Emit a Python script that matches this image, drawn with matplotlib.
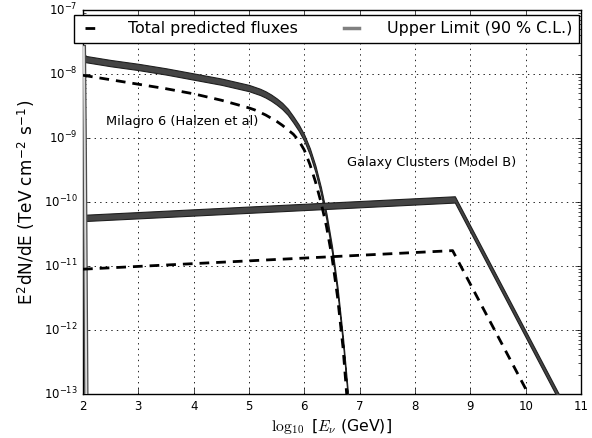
import numpy as np
import matplotlib
matplotlib.use('Agg')
from matplotlib import pyplot as plt
from matplotlib.lines import Line2D

plt.style.use('classic')

# log10(E/GeV) vs log10(E^2 dN/dE)
# Milagro 6 (Halzen et al), upper limit band
milagro_x = [2.0, 2.5, 3.0, 3.5, 4.0, 4.5, 5.0, 5.1, 5.2, 5.3, 5.4, 5.5,
             5.6, 5.7, 5.8, 5.9, 6.0, 6.1, 6.2, 6.3, 6.4, 6.5, 6.6, 6.7,
             6.79]
milagro_ul = [-7.76, -7.83, -7.89, -7.96, -8.04, -8.12, -8.22, -8.25, -8.28,
              -8.32, -8.37, -8.43, -8.50, -8.59, -8.71, -8.84, -9.00, -9.21,
              -9.48, -9.82, -10.23, -10.74, -11.38, -12.18, -13.05]
# Milagro 6, predicted flux
milagro_pred_x = [2.0, 2.5, 3.0, 3.5, 4.0, 4.5, 5.0, 5.1, 5.2, 5.3, 5.4,
                  5.5, 5.6, 5.7, 5.8, 5.9, 6.0, 6.1, 6.2, 6.3, 6.4, 6.5, 6.6,
                  6.7, 6.77]
milagro_pred = [-8.02, -8.09, -8.16, -8.23, -8.31, -8.41, -8.53, -8.56, -8.60,
                -8.64, -8.69, -8.74, -8.80, -8.87, -8.94, -9.04, -9.19, -9.41,
                -9.68, -10.00, -10.38, -10.86, -11.48, -12.28, -13.05]
# Galaxy clusters (model B)
cluster_x = [2.0, 8.72, 10.60]
cluster_ul = [-10.25, -9.96, -13.05]
cluster_pred_x = [2.0, 8.68, 10.08]
cluster_pred = [-11.05, -10.76, -13.05]
# steep source at the left edge
steep_x = [2.015, 2.03, 2.045, 2.06]
steep_ul = [-7.58, -9.0, -11.0, -13.05]

band = 1.12  # half width of the upper limit bands (factor)
dash = (7, 5)

fig = plt.figure(figsize=(5.92, 4.38), dpi=100, facecolor='white')
ax = fig.add_axes([0.1402, 0.1005, 0.8412, 0.8767])

for xs, ys in [(milagro_x, milagro_ul), (cluster_x, cluster_ul)]:
    y = 10 ** np.array(ys)
    ax.fill_between(xs, y / band, y * band, facecolor='0.27',
                    edgecolor='0.12', linewidth=0.8, zorder=3)

ys = 10 ** np.array(steep_ul)
ax.plot(steep_x, ys, color='0.3', lw=3.2, zorder=3)
ax.plot(steep_x, ys, color='0.85', lw=1.4, zorder=3)

ax.plot(milagro_pred_x, 10 ** np.array(milagro_pred), 'k--', lw=2,
        dashes=dash, zorder=4)
ax.plot(cluster_pred_x, 10 ** np.array(cluster_pred), 'k--', lw=2,
        dashes=dash, zorder=4)

ax.set_yscale('log')
ax.set_xlim(2, 11)
ax.set_ylim(1e-13, 1e-7)
ax.grid(True, color='k', linestyle=':', linewidth=0.6)
ax.tick_params(labelsize=8.5)

ax.text(2.41, 10 ** -8.75, 'Milagro 6 (Halzen et al)', fontsize=9.4,
        va='center', ha='left')
ax.text(6.77, 10 ** -9.39, 'Galaxy Clusters (Model B)', fontsize=9.4,
        va='center', ha='left')

ax.set_xlabel(r'$\log_{10}$ [$E_\nu$ (GeV)]', fontsize=11.3, labelpad=3)
ax.set_ylabel(r'E$^\mathregular{2}$dN/dE (TeV cm$^\mathregular{-2}$ '
              r's$^\mathregular{-1}$)', fontsize=12.2)

handles = [Line2D([], [], color='k', ls='--', lw=2, dashes=dash),
           Line2D([], [], color='0.5', lw=2.5)]
ax.legend(handles, ['Total predicted fluxes', 'Upper Limit (90 % C.L.)'],
          loc='upper left', bbox_to_anchor=(-0.019, 0.914, 1.015, 0.073),
          mode='expand', ncol=2, borderaxespad=0, fontsize=11.4,
          handlelength=1.55, handletextpad=1.5, fancybox=False)

fig.savefig('out.png', dpi=100, facecolor='white')
